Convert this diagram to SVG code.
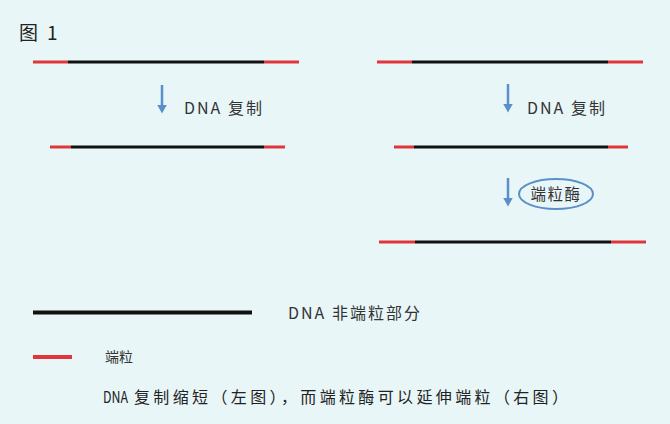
<svg xmlns="http://www.w3.org/2000/svg" width="670" height="424" viewBox="0 0 670 424">
<defs>
<style>
.bg{fill:#e8f6f8}
.red{stroke:#e0363b;stroke-width:3;fill:none}
.blk{stroke:#111;stroke-width:3;fill:none}
.arr{stroke:#5b8fc9;stroke-width:2.5;fill:none}
.t{font-family:"Noto Sans CJK SC","Liberation Sans",sans-serif;fill:#333;font-size:15px}
.lab{font-size:16px;letter-spacing:2px}
.cap{font-family:"Noto Sans CJK SC","Liberation Sans",sans-serif;fill:#222;font-size:16px}
</style>
<marker id="ah" markerWidth="5" markerHeight="5" refX="1" refY="2" orient="auto" markerUnits="strokeWidth">
<path d="M0,0 L3.6,2 L0,4 Z" fill="#5b8fc9"/>
</marker>
</defs>
<rect class="bg" x="0" y="0" width="670" height="424"/>
<g id="title"><text class="t" y="40" style="font-size:19px;fill:#222"><tspan x="19">图</tspan><tspan x="47">1</tspan></text></g>

<g id="left-dna-1">
<line class="red" x1="33" y1="62" x2="68" y2="62"/>
<line class="blk" x1="68" y1="62" x2="264" y2="62"/>
<line class="red" x1="264" y1="62" x2="299" y2="62"/>
</g>
<g id="left-dna-2">
<line class="red" x1="50" y1="147" x2="71" y2="147"/>
<line class="blk" x1="71" y1="147" x2="264" y2="147"/>
<line class="red" x1="264" y1="147" x2="285" y2="147"/>
</g>
<g id="left-label"><text class="t lab" x="184" y="114">DNA 复制</text></g>

<g id="right-dna-1">
<line class="red" x1="377" y1="62" x2="412" y2="62"/>
<line class="blk" x1="412" y1="62" x2="608" y2="62"/>
<line class="red" x1="608" y1="62" x2="643" y2="62"/>
</g>
<g id="right-dna-2">
<line class="red" x1="394" y1="147" x2="414" y2="147"/>
<line class="blk" x1="414" y1="147" x2="608" y2="147"/>
<line class="red" x1="608" y1="147" x2="628" y2="147"/>
</g>
<g id="right-dna-3">
<line class="red" x1="379" y1="242" x2="415" y2="242"/>
<line class="blk" x1="415" y1="242" x2="611" y2="242"/>
<line class="red" x1="611" y1="242" x2="646" y2="242"/>
</g>
<g id="right-label"><text class="t lab" x="527" y="114">DNA 复制</text></g>
<g id="telomerase">
<ellipse cx="556" cy="194" rx="37" ry="15" fill="none" stroke="#5b8fc9" stroke-width="2"/>
<text class="t" x="556" y="199.5" text-anchor="middle" letter-spacing="1.5" style="font-size:15.5px">端粒酶</text>
</g>

<g id="connectors">
<line class="arr" x1="162" y1="85" x2="162" y2="107" marker-end="url(#ah)"/>
<line class="arr" x1="508" y1="84" x2="508" y2="106" marker-end="url(#ah)"/>
<line class="arr" x1="508" y1="178" x2="508" y2="200" marker-end="url(#ah)"/>
</g>

<g id="legend-dna">
<line x1="33" y1="312.5" x2="252" y2="312.5" stroke="#111" stroke-width="4"/>
<text class="t lab" x="288" y="319">DNA 非端粒部分</text>
</g>
<g id="legend-telomere">
<line x1="33" y1="357" x2="72" y2="357" stroke="#e0363b" stroke-width="4"/>
<text class="t" x="105" y="362" style="font-size:14px">端粒</text>
</g>
<g id="caption">
<text class="cap" x="103" y="403" textLength="25" lengthAdjust="spacingAndGlyphs">DNA</text>
<text class="cap" x="134" y="403" textLength="434" lengthAdjust="spacing">复制缩短（左图），而端粒酶可以延伸端粒（右图）</text>
</g>
</svg>
